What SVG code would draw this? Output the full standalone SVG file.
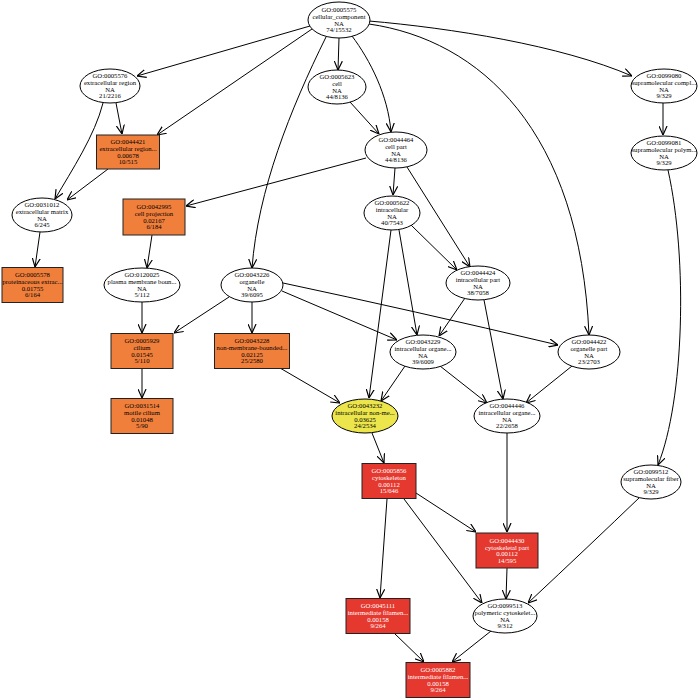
<svg xmlns="http://www.w3.org/2000/svg" width="700" height="700" viewBox="0 0 700 700">
<style>
.t{font-family:"Liberation Serif","Times New Roman",serif;font-size:6.7px;text-anchor:middle;fill:#000}
.w{fill:#fff}
ellipse{fill:#fff;stroke:#000;stroke-width:1}
.y ellipse{fill:#ECE64C}
.o rect{fill:#F07F3C;stroke:#222;stroke-width:1}
.r rect{fill:#E5392F;stroke:#222;stroke-width:1}
#edges path{fill:none;stroke:#000;stroke-width:1;marker-end:url(#a)}
</style>
<defs>
<marker id="a" viewBox="0 0 10 10" refX="10" refY="5" markerWidth="9" markerHeight="9" markerUnits="userSpaceOnUse" orient="auto">
<path d="M0,0.5 L10,5 L0,9.5" fill="none" stroke="#000" stroke-width="1.3"/>
</marker>
</defs>
<rect width="700" height="700" fill="#fff"/>
<g id="edges">
<path d="M310,26 L137,76"/>
<path d="M312,29 L157,135"/>
<path d="M339,38 L338,70"/>
<path d="M352,36 C370,60 388,95 391,132"/>
<path d="M326,37 C290,110 258,190 252,268"/>
<path d="M369,21 C450,28 560,45 632,76"/>
<path d="M369,24 C480,40 580,130 589,335"/>
<path d="M116,103 L122,134"/>
<path d="M103,103 C95,135 72,170 55,199"/>
<path d="M108,169 L67,200"/>
<path d="M350,102 L379,134"/>
<path d="M663,103 L663,135"/>
<path d="M366,158 L186,206"/>
<path d="M395,168 L393,195"/>
<path d="M407,167 L470,267"/>
<path d="M668,170 C688,260 684,400 658,465"/>
<path d="M40,232 L35,267"/>
<path d="M152,235 L147,268"/>
<path d="M411,225 L457,270"/>
<path d="M399,230 L417,335"/>
<path d="M391,230 L369,398"/>
<path d="M142,302 L142,333"/>
<path d="M229,297 L174,333"/>
<path d="M252,302 L252,333"/>
<path d="M282,291 L397,340"/>
<path d="M283,283 Q410,310 558,345"/>
<path d="M465,298 L439,336"/>
<path d="M484,300 L503,399"/>
<path d="M142,368 L142,398"/>
<path d="M280,368 L340,403"/>
<path d="M405,366 L381,401"/>
<path d="M440,366 L487,403"/>
<path d="M572,366 L526,403"/>
<path d="M507,433 L507,532"/>
<path d="M372,433 L384,463"/>
<path d="M640,497 Q590,545 528,603"/>
<path d="M387,499 L380,598"/>
<path d="M416,493 L476,532"/>
<path d="M404,499 L482,603"/>
<path d="M507,568 L506,599"/>
<path d="M394,633 L424,662"/>
<path d="M491,631 L452,662"/>
</g>
<g id="GO0005575"><ellipse cx="339" cy="20" rx="31" ry="18"/><text class="t"><tspan x="339" y="12.3">GO:0005575</tspan><tspan x="339" y="19">cellular_component</tspan><tspan x="339" y="25.6">NA</tspan><tspan x="339" y="32.3">74/15532</tspan></text></g>
<g id="GO0005576"><ellipse cx="110" cy="86" rx="30" ry="17"/><text class="t"><tspan x="110" y="78.3">GO:0005576</tspan><tspan x="110" y="85">extracellular region</tspan><tspan x="110" y="91.6">NA</tspan><tspan x="110" y="98.3">21/2216</tspan></text></g>
<g id="GO0005623"><ellipse cx="337" cy="87" rx="29" ry="17"/><text class="t"><tspan x="337" y="79.3">GO:0005623</tspan><tspan x="337" y="86">cell</tspan><tspan x="337" y="92.6">NA</tspan><tspan x="337" y="99.3">44/8136</tspan></text></g>
<g id="GO0099080"><ellipse cx="664" cy="86" rx="33" ry="17"/><text class="t"><tspan x="664" y="78.3">GO:0099080</tspan><tspan x="664" y="85">supramolecular compl...</tspan><tspan x="664" y="91.6">NA</tspan><tspan x="664" y="98.3">9/329</tspan></text></g>
<g id="GO0044421" class="o"><rect x="96.5" y="135" width="63" height="34"/><text class="t"><tspan x="128" y="144.3">GO:0044421</tspan><tspan x="128" y="151">extracellular region...</tspan><tspan x="128" y="157.6">0.00678</tspan><tspan x="128" y="164.3">10/515</tspan></text></g>
<g id="GO0044464"><ellipse cx="396" cy="150" rx="31" ry="18"/><text class="t"><tspan x="396" y="142.3">GO:0044464</tspan><tspan x="396" y="149">cell part</tspan><tspan x="396" y="155.6">NA</tspan><tspan x="396" y="162.3">44/8136</tspan></text></g>
<g id="GO0099081"><ellipse cx="664" cy="153" rx="33" ry="17"/><text class="t"><tspan x="664" y="145.3">GO:0099081</tspan><tspan x="664" y="152">supramolecular polym...</tspan><tspan x="664" y="158.6">NA</tspan><tspan x="664" y="165.3">9/329</tspan></text></g>
<g id="GO0031012"><ellipse cx="42" cy="215" rx="30" ry="17"/><text class="t"><tspan x="42" y="207.3">GO:0031012</tspan><tspan x="42" y="214">extracellular matrix</tspan><tspan x="42" y="220.6">NA</tspan><tspan x="42" y="227.3">6/245</tspan></text></g>
<g id="GO0042995" class="o"><rect x="123" y="199" width="62" height="36"/><text class="t"><tspan x="154" y="209.3">GO:0042995</tspan><tspan x="154" y="216">cell projection</tspan><tspan x="154" y="222.6">0.02167</tspan><tspan x="154" y="229.3">6/184</tspan></text></g>
<g id="GO0005622"><ellipse cx="392" cy="213" rx="28" ry="17"/><text class="t"><tspan x="392" y="205.3">GO:0005622</tspan><tspan x="392" y="212">intracellular</tspan><tspan x="392" y="218.6">NA</tspan><tspan x="392" y="225.3">40/7543</tspan></text></g>
<g id="GO0005578" class="o"><rect x="2" y="267.5" width="61" height="35"/><text class="t"><tspan x="32.5" y="277.3">GO:0005578</tspan><tspan x="32.5" y="284">proteinaceous extrac...</tspan><tspan x="32.5" y="290.6">0.01755</tspan><tspan x="32.5" y="297.3">6/164</tspan></text></g>
<g id="GO0120025"><ellipse cx="142" cy="285" rx="38" ry="17"/><text class="t"><tspan x="142" y="277.3">GO:0120025</tspan><tspan x="142" y="284">plasma membrane boun...</tspan><tspan x="142" y="290.6">NA</tspan><tspan x="142" y="297.3">5/112</tspan></text></g>
<g id="GO0043226"><ellipse cx="252" cy="285" rx="31" ry="17"/><text class="t"><tspan x="252" y="277.3">GO:0043226</tspan><tspan x="252" y="284">organelle</tspan><tspan x="252" y="290.6">NA</tspan><tspan x="252" y="297.3">39/6095</tspan></text></g>
<g id="GO0044424"><ellipse cx="478" cy="283" rx="32" ry="17"/><text class="t"><tspan x="478" y="275.3">GO:0044424</tspan><tspan x="478" y="282">intracellular part</tspan><tspan x="478" y="288.6">NA</tspan><tspan x="478" y="295.3">38/7058</tspan></text></g>
<g id="GO0005929" class="o"><rect x="111" y="333.5" width="62" height="35"/><text class="t"><tspan x="142" y="343.3">GO:0005929</tspan><tspan x="142" y="350">cilium</tspan><tspan x="142" y="356.6">0.01545</tspan><tspan x="142" y="363.3">5/110</tspan></text></g>
<g id="GO0043228" class="o"><rect x="214.5" y="333.5" width="75" height="35"/><text class="t"><tspan x="252" y="343.3">GO:0043228</tspan><tspan x="252" y="350">non-membrane-bounded...</tspan><tspan x="252" y="356.6">0.02125</tspan><tspan x="252" y="363.3">25/2580</tspan></text></g>
<g id="GO0043229"><ellipse cx="423" cy="352" rx="33" ry="17"/><text class="t"><tspan x="423" y="344.3">GO:0043229</tspan><tspan x="423" y="351">intracellular organe...</tspan><tspan x="423" y="357.6">NA</tspan><tspan x="423" y="364.3">39/6009</tspan></text></g>
<g id="GO0044422"><ellipse cx="589" cy="352" rx="31" ry="17"/><text class="t"><tspan x="589" y="344.3">GO:0044422</tspan><tspan x="589" y="351">organelle part</tspan><tspan x="589" y="357.6">NA</tspan><tspan x="589" y="364.3">23/2703</tspan></text></g>
<g id="GO0031514" class="o"><rect x="111" y="398.5" width="62" height="35"/><text class="t"><tspan x="142" y="408.3">GO:0031514</tspan><tspan x="142" y="415">motile cilium</tspan><tspan x="142" y="421.6">0.01048</tspan><tspan x="142" y="428.3">5/90</tspan></text></g>
<g id="GO0043232" class="y"><ellipse cx="365" cy="416" rx="33" ry="17"/><text class="t"><tspan x="365" y="408.3">GO:0043232</tspan><tspan x="365" y="415">intracellular non-me...</tspan><tspan x="365" y="421.6">0.03625</tspan><tspan x="365" y="428.3">24/2534</tspan></text></g>
<g id="GO0044446"><ellipse cx="507" cy="416" rx="33" ry="17"/><text class="t"><tspan x="507" y="408.3">GO:0044446</tspan><tspan x="507" y="415">intracellular organe...</tspan><tspan x="507" y="421.6">NA</tspan><tspan x="507" y="428.3">22/2658</tspan></text></g>
<g id="GO0005856" class="r"><rect x="362" y="463.5" width="54" height="35"/><text class="t w"><tspan x="389" y="473.3">GO:0005856</tspan><tspan x="389" y="480">cytoskeleton</tspan><tspan x="389" y="486.6">0.00112</tspan><tspan x="389" y="493.3">15/646</tspan></text></g>
<g id="GO0099512"><ellipse cx="651" cy="482" rx="30" ry="17"/><text class="t"><tspan x="651" y="474.3">GO:0099512</tspan><tspan x="651" y="481">supramolecular fiber</tspan><tspan x="651" y="487.6">NA</tspan><tspan x="651" y="494.3">9/329</tspan></text></g>
<g id="GO0044430" class="r"><rect x="476" y="533" width="62" height="35"/><text class="t w"><tspan x="507" y="542.8">GO:0044430</tspan><tspan x="507" y="549.5">cytoskeletal part</tspan><tspan x="507" y="556.1">0.00112</tspan><tspan x="507" y="562.8">14/595</tspan></text></g>
<g id="GO0045111" class="r"><rect x="346" y="598.5" width="64" height="35"/><text class="t w"><tspan x="378" y="608.3">GO:0045111</tspan><tspan x="378" y="615">intermediate filamen...</tspan><tspan x="378" y="621.6">0.00158</tspan><tspan x="378" y="628.3">9/264</tspan></text></g>
<g id="GO0099513"><ellipse cx="505" cy="616" rx="32" ry="17"/><text class="t"><tspan x="505" y="608.3">GO:0099513</tspan><tspan x="505" y="615">polymeric cytoskelet...</tspan><tspan x="505" y="621.6">NA</tspan><tspan x="505" y="628.3">9/312</tspan></text></g>
<g id="GO0005882" class="r"><rect x="406" y="662.5" width="64" height="35"/><text class="t w"><tspan x="438" y="672.3">GO:0005882</tspan><tspan x="438" y="679">intermediate filamen...</tspan><tspan x="438" y="685.6">0.00158</tspan><tspan x="438" y="692.3">9/264</tspan></text></g>
</svg>
